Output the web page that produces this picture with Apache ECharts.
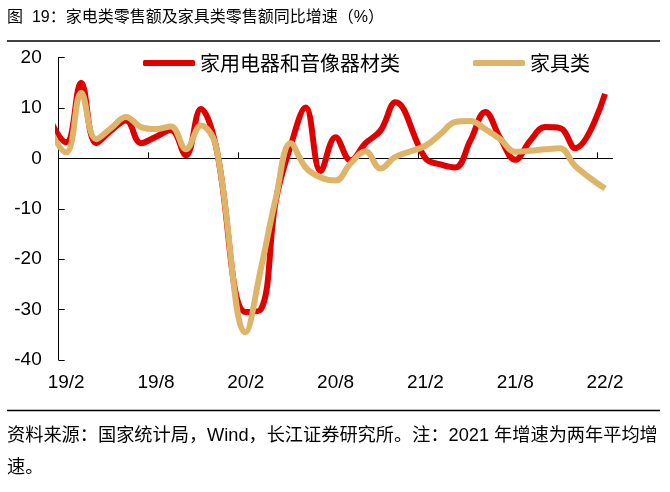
<!DOCTYPE html>
<html>
<head>
<meta charset="utf-8">
<script src="https://cdn.jsdelivr.net/npm/echarts@6/dist/echarts.min.js"></script>
<style>
html,body{margin:0;padding:0;background:#fff;}
#chart{width:670px;height:492px;}
</style>
</head>
<body>
<div id="chart"></div>
<script>
// month labels (category centres), 19/2 .. 22/2
const months = ['19/2','19/3','19/4','19/5','19/6','19/7','19/8','19/9','19/10','19/11','19/12',
  '20/1','20/2','20/3','20/4','20/5','20/6','20/7','20/8','20/9','20/10','20/11','20/12',
  '21/1','21/2','21/3','21/4','21/5','21/6','21/7','21/8','21/9','21/10','21/11','21/12',
  '22/1','22/2'];
// 家用电器和音像器材类 (null = January, reported together with February)
const appliance = [3.2, 15, 3, 5.5, 7.5, 3, 4.3, 5.6, 0.6, 9.8, 2.5,
  null, -30.5, -30, -8.5, 2.5, 10.1, -2.5, 4.2, -0.4, 3, 5.5, 11.1,
  null, 0, -1.2, -1.8, 3.5, 9.2, 4, -0.3, 3.5, 6.2, 6, 2,
  null, 12.8];
// 家具类
const furniture = [1.2, 13, 3.8, 6, 8.2, 6.2, 5.8, 6.3, 1.8, 6.5, 2.5,
  null, -34.5, -22, -8, 3, -1.8, -3.8, -4.4, -1, 1.4, -2, 0.3,
  null, 2.5, 4.8, 7.2, 7.4, 5.8, 3.8, 1.3, 1.5, 1.8, 2.0, -1.5,
  null, -6];
// previous point (18/12), only its lead-in segment is visible
const leadIn = { month: '18/12', offset: -2, appliance: 13.9, furniture: 12 };
const yTicks = { min: -40, max: 20, step: 10 };
const labelEvery = 6;

function toPairs(values, lead) {
  const out = [[leadIn.offset, lead]];
  values.forEach((v, i) => { if (v !== null) out.push([i, v]); });
  return out;
}
// tick marks sit on the left boundary of every labelled month
const tickPositions = months.map((m, i) => i).filter(i => i % labelEvery === 0).map(i => i - 0.5);

const latin = 'Liberation Sans, Arial, Noto Sans CJK SC';
const chart = echarts.init(document.getElementById('chart'), null, { renderer: 'canvas' });
chart.setOption({
  backgroundColor: '#fff',
  animation: false,
  grid: { left: 58.7, right: 57.5, top: 57.5, bottom: 132, containLabel: false },
  legend: {
    left: 143, top: 53, padding: 0,
    itemWidth: 52, itemHeight: 6, itemGap: 73,
    icon: 'roundRect',
    textStyle: { fontSize: 20, color: '#000', fontFamily: 'Noto Sans CJK SC' },
    data: ['家用电器和音像器材类', '家具类']
  },
  xAxis: [
    {
      type: 'value', min: -0.5, max: months.length - 0.5, position: 'bottom',
      axisLine: { show: true, onZero: true, lineStyle: { color: '#000', width: 1 } },
      axisTick: { show: true, inside: true, length: 6, customValues: tickPositions, lineStyle: { color: '#000' } },
      axisLabel: { show: false }, splitLine: { show: false }
    },
    {
      type: 'category', data: months, boundaryGap: true, position: 'bottom',
      axisLine: { show: false, onZero: false }, axisTick: { show: false },
      axisLabel: { show: true, interval: labelEvery - 1, fontSize: 19, color: '#000', fontFamily: latin, margin: 13 },
      splitLine: { show: false }
    }
  ],
  yAxis: {
    type: 'value', min: yTicks.min, max: yTicks.max, interval: yTicks.step,
    axisLine: { show: true, onZero: false, lineStyle: { color: '#000', width: 1 } },
    axisTick: { show: true, inside: true, length: 6, lineStyle: { color: '#000' } },
    axisLabel: { fontSize: 19, color: '#000', fontFamily: latin, margin: 17 },
    splitLine: { show: false }
  },
  series: [
    {
      name: '家用电器和音像器材类', type: 'line', xAxisIndex: 0,
      data: toPairs(appliance, leadIn.appliance),
      smooth: 0.4, showSymbol: false, symbol: 'none', clip: true,
      lineStyle: { color: '#E10000', width: 6 }, itemStyle: { color: '#E10000' }
    },
    {
      name: '家具类', type: 'line', xAxisIndex: 0,
      data: toPairs(furniture, leadIn.furniture),
      smooth: 0.4, showSymbol: false, symbol: 'none', clip: true,
      lineStyle: { color: '#DDB468', width: 6 }, itemStyle: { color: '#DDB468' }
    }
  ],
  graphic: [
    { type: 'text', left: 7, top: 10, style: { text: '图  19：家电类零售额及家具类零售额同比增速（%）', fontSize: 16, fill: '#000', fontFamily: latin } },
    { type: 'line', shape: { x1: 7, y1: 41, x2: 660, y2: 41 }, style: { stroke: '#000', lineWidth: 1.5 } },
    { type: 'line', shape: { x1: 7, y1: 410.5, x2: 660, y2: 410.5 }, style: { stroke: '#000', lineWidth: 1.5 } },
    { type: 'text', left: 7, top: 427, style: { text: '资料来源：国家统计局，Wind，长江证券研究所。注：2021 年增速为两年平均增', fontSize: 18.2, fill: '#000', fontFamily: latin } },
    { type: 'text', left: 7, top: 459, style: { text: '速。', fontSize: 18.2, fill: '#000', fontFamily: latin } }
  ]
});
</script>
</body>
</html>
